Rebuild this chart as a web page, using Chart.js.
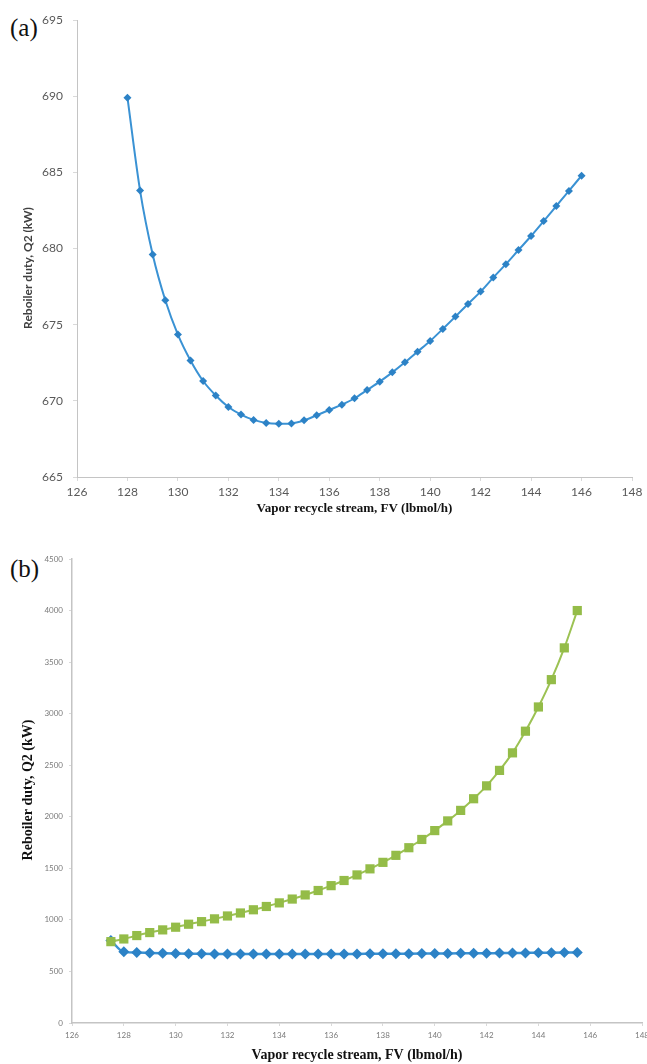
<!DOCTYPE html>
<html>
<head>
<meta charset="utf-8">
<script src="https://cdn.jsdelivr.net/npm/chart.js@4.4.1/dist/chart.umd.min.js"></script>
<style>
  html, body { margin: 0; padding: 0; background: #fff; overflow: hidden; }
  body { position: relative; width: 647px; height: 1064px; }
  canvas { position: absolute; left: 0; }
  #chartA { top: 0; }
  #chartB { top: 525px; }
  .panel { position: absolute; font-family: "Liberation Serif", "DejaVu Serif", serif; font-size: 25px; color: #111; }
</style>
</head>
<body>
<div class="panel" style="left:10px; top:14px;">(a)</div>
<div class="panel" style="left:10px; top:555px;">(b)</div>
<canvas id="chartA" width="647" height="525"></canvas>
<canvas id="chartB" width="654" height="539"></canvas>
<script>
// Vapor recycle flow (lbmol/h) and reboiler duty Q2 (kW)
var fvA = [128, 128.5, 129, 129.5, 130, 130.5, 131, 131.5, 132, 132.5, 133, 133.5, 134, 134.5,
           135, 135.5, 136, 136.5, 137, 137.5, 138, 138.5, 139, 139.5, 140, 140.5, 141, 141.5,
           142, 142.5, 143, 143.5, 144, 144.5, 145, 145.5, 146];
var dutyA = [689.9, 683.8, 679.6, 676.6, 674.35, 672.65, 671.3, 670.35, 669.6, 669.1, 668.75, 668.55,
             668.5, 668.52, 668.72, 669.05, 669.4, 669.75, 670.17, 670.71, 671.26, 671.87, 672.53,
             673.23, 673.93, 674.72, 675.53, 676.36, 677.17, 678.09, 678.97, 679.9, 680.82, 681.8,
             682.79, 683.78, 684.78];

var fvB = [127.5, 128, 128.5, 129, 129.5, 130, 130.5, 131, 131.5, 132, 132.5, 133, 133.5, 134,
           134.5, 135, 135.5, 136, 136.5, 137, 137.5, 138, 138.5, 139, 139.5, 140, 140.5, 141,
           141.5, 142, 142.5, 143, 143.5, 144, 144.5, 145, 145.5];
var dutyBlue = [800, 689.9, 683.8, 679.6, 676.6, 674.35, 672.65, 671.3, 670.35, 669.6, 669.1, 668.75,
                668.55, 668.5, 668.52, 668.72, 669.05, 669.4, 669.75, 670.17, 670.71, 671.26, 671.87,
                672.53, 673.23, 673.93, 674.72, 675.53, 676.36, 677.17, 678.09, 678.97, 679.9, 680.82,
                681.8, 682.79, 683.78];
var dutyGreen = [789, 815, 848, 877, 903, 929, 958, 983, 1010, 1038, 1067, 1098, 1130, 1165, 1202,
                 1242, 1285, 1332, 1382, 1436, 1495, 1558, 1626, 1700, 1780, 1866, 1960, 2062, 2175,
                 2300, 2450, 2620, 2830, 3065, 3330, 3638, 4000];

var xTicksA = [126, 148, 2];
var yTicksA = [665, 695, 5];
var xTicksB = [126, 148, 2];
var yTicksB = [0, 4500, 500];

var xTitle = 'Vapor recycle stream, FV (lbmol/h)';
var yTitle = 'Reboiler duty, Q2 (kW)';

function toPoints(xs, ys) {
    return xs.map(function (x, i) { return { x: x, y: ys[i] }; });
}

function plain(value) {
    return String(value);
}

// rotated y-axis caption drawn at a fixed spot beside the plot
var sideTitle = {
    id: 'sideTitle',
    afterDraw: function (chart, args, opts) {
        var ctx = chart.ctx;
        ctx.save();
        ctx.translate(opts.x, opts.y);
        ctx.rotate(-Math.PI / 2);
        ctx.font = opts.font;
        ctx.fillStyle = opts.color;
        ctx.textAlign = 'center';
        ctx.textBaseline = 'middle';
        ctx.fillText(opts.text, 0, 0);
        ctx.restore();
    }
};

Chart.defaults.animation = false;
Chart.defaults.responsive = false;

// (a) reboiler duty over the recycle range
new Chart(document.getElementById('chartA').getContext('2d'), {
    type: 'line',
    data: {
        datasets: [{
            data: toPoints(fvA, dutyA),
            borderColor: '#3a92d4',
            backgroundColor: '#2c82c6',
            borderWidth: 2,
            pointStyle: 'rectRot',
            pointRadius: 4,
            pointBorderWidth: 0,
            cubicInterpolationMode: 'monotone',
            fill: false
        }]
    },
    options: {
        layout: { padding: { top: 20, right: 15, left: 0, bottom: 0 } },
        plugins: {
            legend: { display: false },
            tooltip: { enabled: false },
            sideTitle: { text: yTitle, x: 28, y: 268, font: 'bold 12px Lato', color: '#404040' }
        },
        scales: {
            x: {
                type: 'linear',
                min: xTicksA[0], max: xTicksA[1],
                afterFit: function (s) { s.height = 48; },
                ticks: { stepSize: xTicksA[2], padding: 4, color: '#595959', font: { family: 'Lato', size: 12 }, callback: plain },
                grid: { display: true, drawOnChartArea: false, tickLength: 4, color: '#d9d9d9' },
                border: { color: '#c4c4c4' },
                title: {
                    display: true, text: xTitle, color: '#111',
                    font: { family: 'Liberation Serif', size: 13, weight: 'bold' },
                    padding: { top: 0, bottom: 9 }
                }
            },
            y: {
                min: yTicksA[0], max: yTicksA[1],
                afterFit: function (s) { s.width = 77; },
                ticks: { stepSize: yTicksA[2], padding: 10, color: '#595959', font: { family: 'Lato', size: 12 }, callback: plain },
                grid: { display: true, drawOnChartArea: false, tickLength: 4, color: '#d9d9d9' },
                border: { color: '#c4c4c4' }
            }
        }
    },
    plugins: [sideTitle]
});

// (b) both duty curves on a common kW scale; the canvas runs a little past
// the page edge so the last axis label is cut off
new Chart(document.getElementById('chartB').getContext('2d'), {
    type: 'line',
    data: {
        datasets: [{
            data: toPoints(fvB, dutyGreen),
            borderColor: '#9cc253',
            backgroundColor: '#94bc48',
            borderWidth: 2,
            pointStyle: 'rect',
            pointRadius: 6.5,
            pointBorderWidth: 0,
            cubicInterpolationMode: 'monotone',
            fill: false,
            order: 0
        }, {
            data: toPoints(fvB, dutyBlue),
            borderColor: '#3a92d4',
            backgroundColor: '#2c82c6',
            borderWidth: 2.5,
            pointStyle: 'rectRot',
            pointRadius: 5.5,
            pointBorderWidth: 0,
            cubicInterpolationMode: 'monotone',
            fill: false,
            order: 1
        }]
    },
    options: {
        layout: { padding: { top: 34, right: 1, left: 0, bottom: 0 } },
        plugins: {
            legend: { display: false },
            tooltip: { enabled: false },
            sideTitle: { text: yTitle, x: 28, y: 265, font: 'bold 14px "Liberation Serif"', color: '#111' }
        },
        scales: {
            x: {
                type: 'linear',
                min: xTicksB[0], max: xTicksB[1],
                afterFit: function (s) { s.height = 41; },
                ticks: { stepSize: xTicksB[2], padding: 5, color: '#7a7a7a', font: { family: 'Lato', size: 8 }, callback: plain },
                grid: { display: true, drawOnChartArea: false, tickLength: 3, color: '#d9d9d9' },
                border: { color: '#c4c4c4', width: 1.5 },
                title: {
                    display: true, text: xTitle, color: '#111',
                    font: { family: 'Liberation Serif', size: 14, weight: 'bold' },
                    padding: { top: 0, bottom: 0 }
                }
            },
            y: {
                min: yTicksB[0], max: yTicksB[1],
                afterFit: function (s) { s.width = 72; },
                ticks: { stepSize: yTicksB[2], padding: 6, color: '#7a7a7a', font: { family: 'Lato', size: 8 }, callback: plain },
                grid: { display: true, drawOnChartArea: false, tickLength: 3, color: '#d9d9d9' },
                border: { color: '#c4c4c4', width: 1.5 }
            }
        }
    },
    plugins: [sideTitle]
});
</script>
</body>
</html>
